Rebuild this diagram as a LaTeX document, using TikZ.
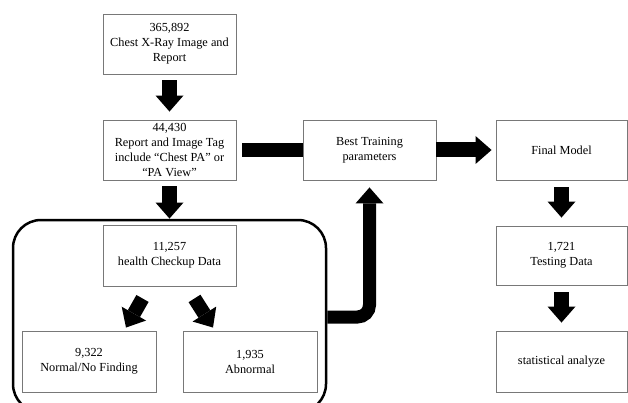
\documentclass[tikz,border=0pt]{standalone}
\usepackage{fontspec}
\setmainfont{Liberation Serif}
\usetikzlibrary{arrows.meta,calc}
\definecolor{boxline}{RGB}{120,120,120}
\begin{document}
\begin{tikzpicture}[x=1pt,y=-1pt,
  stepbox/.style={draw=boxline, line width=0.9pt, align=center, inner sep=0pt,
    font=\fontsize{12.3}{15}\selectfont},
  blk/.style={line width=15pt, -{Triangle[width=28pt,length=16pt,line width=0pt]}},
  bar/.style={line width=14pt}]
\useasboundingbox (0,0) rectangle (628,403);
\clip (0,0) rectangle (628,403);
\fill[white] (0,0) rectangle (628,403);

% outer group frame
\node[draw, line width=2.5pt, rounded corners=28pt, minimum width=313pt, minimum height=192pt,
  inner sep=0pt] (grp) at (169.5,316) {};

% process boxes
\node[stepbox, minimum width=133pt, minimum height=60pt] (src) at (169.5,44)
  {365,892\\Chest X-Ray Image and\\Report};
\node[stepbox, minimum width=133pt, minimum height=60pt] (tag) at (169.5,150)
  {44,430\\Report and Image Tag\\include “Chest PA” or\\“PA View”};
\node[stepbox, minimum width=133pt, minimum height=60pt] (best) at (369.5,150)
  {Best Training\\parameters};
\node[stepbox, minimum width=131pt, minimum height=60pt] (final) at (561.5,150)
  {Final Model};
\node[stepbox, minimum width=131pt, minimum height=59pt] (test) at (561.5,255.5)
  {1,721\\Testing Data};
\node[stepbox, minimum width=131pt, minimum height=61pt] (stat) at (561.5,361.5)
  {statistical analyze};
\node[stepbox, minimum width=133pt, minimum height=61pt] (health) at (169.5,255.5)
  {11,257\\health Checkup Data};
\node[stepbox, minimum width=134pt, minimum height=61pt] (normal) at (89,361.5)
  {9,322\\Normal/No Finding};
\node[stepbox, minimum width=134pt, minimum height=61pt] (abn) at (250,361.5)
  {1,935\\Abnormal};

% block arrows
\draw[blk, shorten <=6pt, shorten >=8pt] (src.south) -- (src.south |- tag.north);
\draw[bar] ($(tag.east)+(6,0)$) -- (best.west);
\draw[blk, shorten >=4pt] (best.east) -- (final.west);
\draw[blk, shorten <=7pt, shorten >=8pt] (final.south) -- (test.north);
\draw[blk, shorten <=7pt, shorten >=8pt] (test.south) -- (stat.north);
\draw[blk, shorten <=6pt, shorten >=6pt] (tag.south) -- (health.north);

% split of the checkup data
\coordinate (ls) at ($(health.south)+(-27,12)$);
\coordinate (le) at ($(normal.north)+(37,-3)$);
\coordinate (rs) at ($(health.south)+(25,12)$);
\coordinate (re) at ($(abn.north)+(-37,-3)$);
\draw[blk, line width=14pt] (ls) -- (le);
\draw[blk, line width=14pt] (rs) -- (re);

% feedback to training parameters
\coordinate (bend) at (best.south |- 0,317);
\draw[blk, line width=13pt, rounded corners=12pt, shorten >=7pt]
  (grp.east |- bend) -- (bend) -- (best.south);
\end{tikzpicture}
\end{document}
